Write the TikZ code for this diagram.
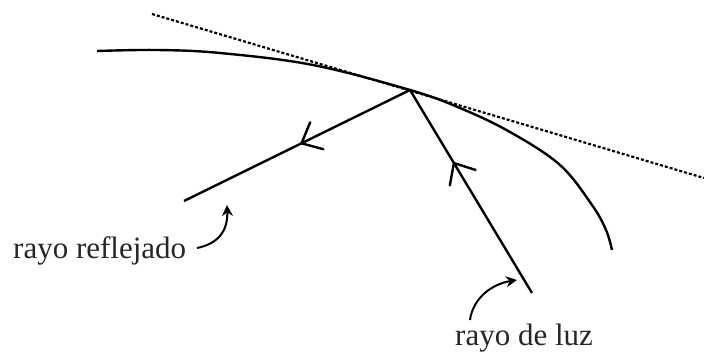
\documentclass[tikz,border=0pt]{standalone}
\usepackage{fontspec}
\setmainfont{Liberation Serif}
\usetikzlibrary{arrows.meta,decorations.markings}
\begin{document}
\begin{tikzpicture}[x=1pt,y=-1pt,
  ray/.style={line width=2.4pt},
  mirror/.style={line width=2.4pt},
  tangent/.style={line width=2.2pt,dash pattern=on 3pt off 2pt},
  lbl/.style={font=\fontsize{31}{34}\selectfont,inner sep=0pt,text=black!85},
  pointer/.style={line width=2pt,-{Stealth[length=11pt,width=11pt]}},
  midarrow/.style={postaction={decorate},decoration={markings,
     mark=at position #1 with {\draw[line width=2.4pt,line cap=round,line join=miter] (-17pt,-15pt) -- (0pt,0pt) -- (-17pt,15pt);}}}
]
\useasboundingbox (0,0) rectangle (704,356);
% tangent line
\coordinate (T1) at (152,14);
\coordinate (T2) at (704,178);
\draw[tangent] (T1) -- (T2);
% mirror curve
\draw[mirror] plot[smooth,tension=0.6] coordinates {(97,51) (157,50) (220,53) (313,65) (410,90) (460,108) (510,132) (560,165) (592,205) (606,230) (612,250)};
% rays
\coordinate (P) at (410,90);
\coordinate (R) at (184,201);
\coordinate (I) at (532,293);
\draw[ray,midarrow=0.48] (P) -- (R);
\draw[ray,midarrow=0.64] (I) -- (P);
% labels
\node[lbl,anchor=base west] (lr) at (13,258) {rayo reflejado};
\node[lbl,anchor=base west] (ll) at (455,345) {rayo de luz};
% pointer arrows
\coordinate (a1) at (197,248);
\coordinate (a2) at (227,205);
\draw[pointer] (a1) .. controls (217,244) and (228,232) .. (a2);
\coordinate (b1) at (470,320);
\coordinate (b2) at (517,280);
\draw[pointer] (b1) .. controls (473,298) and (492,284) .. (b2);
\end{tikzpicture}
\end{document}
